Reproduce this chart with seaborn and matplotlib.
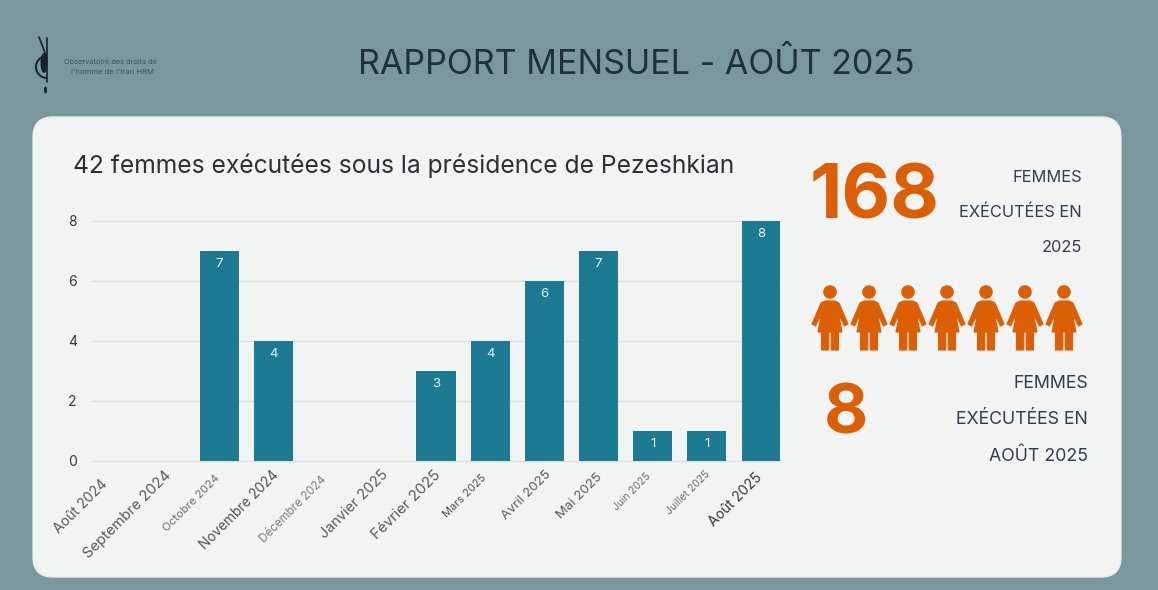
import matplotlib
matplotlib.use("Agg")
from matplotlib import pyplot as plt
from matplotlib.patches import Circle, Ellipse, FancyBboxPatch, PathPatch, Wedge
from matplotlib.path import Path
from matplotlib.transforms import Affine2D, ScaledTranslation
import pandas as pd
import seaborn as sns

# Data
months = ["Août 2024", "Septembre 2024", "Octobre 2024", "Novembre 2024", "Décembre 2024",
          "Janvier 2025", "Février 2025", "Mars 2025", "Avril 2025", "Mai 2025",
          "Juin 2025", "Juillet 2025", "Août 2025"]
executions = [0, 0, 7, 4, 0, 0, 3, 4, 6, 7, 1, 1, 8]
label_sizes = [10, 10.6, 8.2, 9.8, 8.3, 10.4, 10.8, 7.9, 9.5, 9.5, 7.4, 7.5, 10]
label_colors = ["#555b5e", "#555b5e", "#6a7073", "#4d5356", "#7a8083", "#555b5e", "#555b5e",
                "#4d5356", "#555b5e", "#555b5e", "#6a7073", "#6a7073", "#33393c"]
# the labels do not sit quite regularly in the original (pixels, x right / y down)
label_dx = [-11, -1, -5, -2, -7, -1, -2, -9, 1, -2, -7, -2, -6]
label_dy = [6, -3, 2, -3, 3, -3, -3, 2, -2, 0, 0, -2, 0]

BG = "#7a979e"
CARD = "#f2f3f3"
TEAL = "#1c7a92"
ORANGE = "#dc5f06"
DARK = "#1f3238"

sns.set_style("white")
plt.rcParams["font.family"] = ["Inter", "DejaVu Sans"]

W, H = 1158, 590
fig = plt.figure(figsize=(W / 100, H / 100), dpi=100, facecolor=BG)

# background layer in pixel coordinates
bg = fig.add_axes([0, 0, 1, 1])
bg.set_xlim(0, W)
bg.set_ylim(H, 0)
bg.axis("off")
bg.add_patch(FancyBboxPatch((33, 117), 1088, 460, boxstyle="round,pad=0,rounding_size=20",
                            fc=CARD, ec="#e8eced", lw=1))

bg.text(636, 65, "RAPPORT MENSUEL - AOÛT 2025", ha="center", va="center", fontsize=24.5, color=DARK)
bg.text(73, 166, "42 femmes exécutées sous la présidence de Pezeshkian", ha="left", va="center",
        fontsize=17.7, color="#2c3134")

# logo
LOGO = "#14242a"
bg.plot([39, 47], [37, 58], color=LOGO, lw=1.2)
bg.plot([47, 47], [38, 82], color=LOGO, lw=1.2)
bg.add_patch(Wedge((47, 67), 12, 90, 270, width=2, fc=LOGO, ec="none"))
bg.add_patch(Ellipse((44, 63), 7, 20, fc=LOGO, ec="none"))
bg.add_patch(Ellipse((45.5, 90), 3, 7, fc=LOGO, ec="none"))
bg.text(110, 62, "Observatoire des droits de", ha="center", va="center", fontsize=5.3, color="#3d5359")
bg.text(112, 72.5, "l'homme de l'Iran HRM", ha="center", va="center", fontsize=5.6, color="#3d5359")

# right hand side
bg.text(875, 199, "168", ha="center", va="center", fontsize=54, fontweight="bold", color=ORANGE)
bg.text(846, 416, "8", ha="center", va="center", fontsize=49, fontweight="bold", color=ORANGE)
for x, y, s, size in [(1082, 177, "FEMMES", 11.8), (1082, 212, "EXÉCUTÉES EN", 11.8), (1082, 248, "2025", 11.8),
                      (1088, 383, "FEMMES", 12.8), (1088, 420, "EXÉCUTÉES EN", 12.8), (1088, 456, "AOÛT 2025", 12.8)]:
    bg.text(x, y, s, ha="right", va="center", fontsize=size, color="#2b3f52")

# woman pictogram, centred on 0, one unit = one pixel
woman = Path([(-5, -19), (5, -19), (9, -17), (18, 4), (14.5, 6), (8.5, -6), (12, 12), (8.5, 12),
              (8.5, 30), (1.2, 30), (1.2, 12), (-1.2, 12), (-1.2, 30), (-8.5, 30), (-8.5, 12), (-12, 12),
              (-8.5, -6), (-14.5, 6), (-18, 4), (-9, -17), (-5, -19)])
for i in range(7):
    cx = 830 + i * 39
    icon = PathPatch(woman.transformed(Affine2D().translate(cx, 320)),
                     fc=ORANGE, ec=ORANGE, lw=0.8, joinstyle="round")
    bg.add_patch(icon)
    bg.add_patch(Circle((cx, 292), 6.8, fc=ORANGE, ec="none"))

# bar chart
ax = fig.add_axes([92 / W, 1 - 461 / H, 688 / W, 240 / H])
ax.patch.set_alpha(0)
df = pd.DataFrame({"mois": months, "executions": executions})
sns.barplot(data=df, x="mois", y="executions", color=TEAL, saturation=1, width=0.72, linewidth=0, ax=ax)
ax.set_xlim(-0.35, 12.35)
ax.set_ylim(0, 8)
ax.set_yticks([0, 2, 4, 6, 8])
ax.set_xlabel("")
ax.set_ylabel("")
ax.set_axisbelow(True)
ax.yaxis.grid(True, color="#dcdfe0", lw=1, clip_on=False)
ax.xaxis.grid(False)
sns.despine(ax=ax, left=True, bottom=True, top=True, right=True)
ax.tick_params(axis="y", length=0, pad=11, labelsize=10, labelcolor="#33393c")
ax.tick_params(axis="x", length=0, pad=7)
ax.set_xticks(range(len(months)))
ax.set_xticklabels(months, rotation=45, ha="right", rotation_mode="anchor")
for lab, size, col, dx, dy in zip(ax.get_xticklabels(), label_sizes, label_colors, label_dx, label_dy):
    lab.set_fontsize(size)
    lab.set_color(col)
    lab.set_transform(lab.get_transform() + ScaledTranslation(dx / 100, -dy / 100, fig.dpi_scale_trans))
ax.bar_label(ax.containers[0], labels=[str(v) if v else "" for v in executions],
             label_type="edge", padding=-14, color="#eef3f4", fontsize=9.5)

fig.savefig("out.png", dpi=100, facecolor=BG)
